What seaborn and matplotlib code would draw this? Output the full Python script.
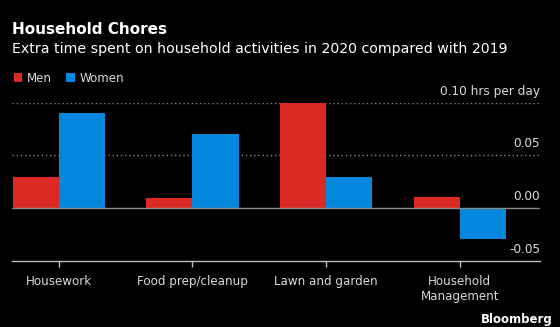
import matplotlib
matplotlib.use("Agg")
import matplotlib.pyplot as plt
import matplotlib.transforms as mtransforms
from matplotlib.patches import Patch
import seaborn as sns
import pandas as pd

categories = ["Housework", "Food prep/cleanup", "Lawn and garden", "Household\nManagement"]
men = [0.030, 0.010, 0.100, 0.011]
women = [0.090, 0.070, 0.030, -0.029]
series_names = ["Men", "Women"]
colors = ["#dc2924", "#0388de"]
y_ticks = [-0.05, 0.0, 0.05, 0.10]
y_tick_labels = ["-0.05", "0.00", "0.05", "0.10 hrs per day"]

df = pd.DataFrame({
    "category": categories * 2,
    "value": men + women,
    "sex": [series_names[0]] * len(categories) + [series_names[1]] * len(categories),
})

sns.set_theme(style="dark")
plt.rcParams["font.family"] = ["DejaVu Sans"]

fig = plt.figure(figsize=(5.6, 3.27), dpi=100, facecolor="black")
ax = fig.add_axes([12 / 560, 66 / 327, 528 / 560, 158.3 / 327])
ax.set_facecolor("black")

sns.barplot(data=df, x="category", y="value", hue="sex", palette=colors,
            width=0.69, saturation=1, ax=ax, legend=False, zorder=3,
            edgecolor="none", linewidth=0)

ax.set_xlim(-0.35, 3.6)
ax.set_ylim(-0.05, 0.10)
ax.set_xlabel("")
ax.set_ylabel("")
ax.set_yticks(y_ticks)
ax.set_yticklabels([])
ax.tick_params(axis="y", length=0, left=False)
ax.grid(False)
for yv in y_ticks:
    if yv == 0:
        ax.axhline(yv, color="#8a8a8a", lw=1.0, zorder=4)
    elif yv > 0:
        ax.axhline(yv, color="#8a8a8a", lw=1.0, ls=(0, (1, 2)), zorder=1)

trans = mtransforms.blended_transform_factory(ax.transAxes, ax.transData)
off = mtransforms.ScaledTranslation(0, 5 / 100, fig.dpi_scale_trans)
for yv, lab in zip(y_ticks, y_tick_labels):
    ax.text(1.0, yv, lab, transform=trans + off, ha="right", va="bottom",
            color="#d9d9d9", fontsize=8.7)

for s in ["top", "left", "right"]:
    ax.spines[s].set_visible(False)
ax.spines["bottom"].set_color("#bdbdbd")
ax.spines["bottom"].set_linewidth(1.0)
ax.tick_params(axis="x", bottom=True, colors="#bdbdbd", length=4, width=1,
               direction="out", labelcolor="#d9d9d9", labelsize=8.6, pad=6)
for lab in ax.get_xticklabels():
    lab.set_ha("center")
    lab.set_multialignment("center")

fig.text(12 / 560, 1 - 29 / 327, "Household Chores", color="white",
         fontsize=11, fontweight="bold", ha="left", va="center")
fig.text(12 / 560, 1 - 49.5 / 327,
         "Extra time spent on household activities in 2020 compared with 2019",
         color="white", fontsize=10.2, ha="left", va="center")

handles = [Patch(facecolor=c, edgecolor="none") for c in colors]
fig.legend(handles, series_names, loc="center left",
           bbox_to_anchor=(3 / 560, 1 - 78 / 327), ncol=2, frameon=False,
           handlelength=0.7, handleheight=0.7, handletextpad=0.4,
           columnspacing=1.2, labelcolor="#d9d9d9", fontsize=8.6)

fig.text(553 / 560, 1 - 320 / 327, "Bloomberg", color="white",
         fontsize=8.5, fontweight="bold", ha="right", va="center")

fig.savefig("out.png", dpi=100, facecolor="black")
